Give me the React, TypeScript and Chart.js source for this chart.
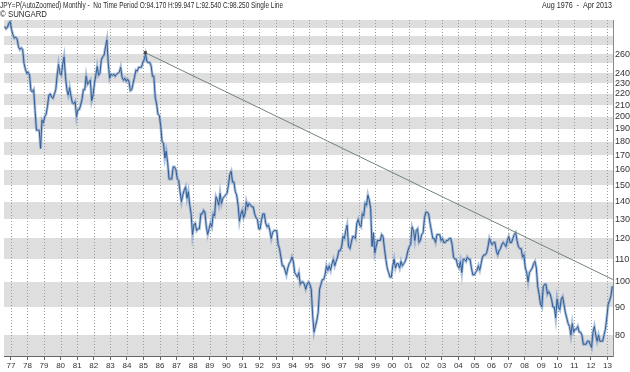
import React, { useEffect, useRef } from 'react';
import { Chart, registerables } from 'chart.js';

Chart.register(...registerables);

// Monthly closes, starting Aug 1976, ending Apr 2013
const startYear = 1976;
const startMonth = 8;
const closes1976to1989 = [
  292, 289, 291, 296, 298,
  288, 282, 278, 279, 277, 268, 265, 267, 265, 250, 244, 240,
  241, 238, 223, 222, 224, 205, 189, 189, 189, 175, 197, 195,
  200, 202, 209, 219, 220, 217, 216, 220, 224, 238, 249, 240,
  238, 249, 257, 237, 224, 219, 226, 218, 212, 211, 213, 200,
  206, 206, 210, 215, 224, 224, 237, 229, 231, 233, 214, 219,
  230, 238, 247, 238, 240, 254, 257, 259, 268, 276, 250, 235,
  239, 238, 239, 237, 239, 240, 241, 246, 236, 233, 235, 232,
  234, 232, 223, 224, 230, 236, 243, 242, 246, 246, 246, 251,
  254, 260, 252, 251, 251, 248, 237, 237, 217, 211, 202, 201,
  192, 180, 179, 168, 173, 165, 154, 154, 154, 162, 162, 160,
  154, 153, 146, 140, 144, 147, 149, 142, 146, 138, 133, 122,
  127, 128, 124, 125, 125, 133, 133, 135, 134, 126, 122, 125,
  128, 126, 133, 132, 143, 141, 138, 145, 139, 142, 143, 144,
];
const closes1990to2001 = [
  145, 150, 157, 159, 152, 152, 146, 144, 138, 129, 133, 135,
  131, 133, 140, 137, 139, 138, 137, 137, 133, 131, 130, 125,
  125, 130, 133, 133, 128, 126, 127, 124, 120, 123, 124, 124,
  124, 117, 115, 111, 107, 107, 105, 103, 106, 108, 109, 111,
  109, 104, 103, 102, 104, 99, 100, 100, 99, 97, 99, 100,
  99, 97, 87, 81, 83, 85, 88, 97, 99, 101, 101, 103,
  107, 105, 107, 105, 108, 110, 107, 109, 111, 114, 114, 116,
  121, 120, 124, 127, 116, 115, 118, 121, 121, 120, 128, 130,
  127, 126, 133, 132, 139, 138, 144, 141, 136, 116, 123, 113,
  116, 119, 119, 119, 122, 121, 115, 110, 106, 104, 102, 102,
  107, 110, 106, 108, 108, 106, 109, 107, 108, 109, 111, 114,
  116, 117, 126, 124, 119, 124, 125, 118, 119, 122, 123, 131,
];
const closes2002to2013 = [
  134, 134, 133, 128, 124, 120, 120, 118, 122, 122, 122, 119,
  120, 118, 118, 119, 119, 120, 120, 117, 111, 110, 110, 107,
  106, 109, 104, 110, 110, 109, 111, 110, 110, 106, 103, 103,
  104, 105, 107, 105, 108, 111, 112, 112, 113, 116, 120, 118,
  117, 118, 118, 114, 112, 114, 115, 117, 118, 117, 116, 119,
  121, 118, 118, 120, 122, 123, 119, 116, 115, 115, 111, 112,
  106, 104, 100, 104, 105, 106, 108, 109, 106, 98, 95, 91,
  90, 98, 99, 99, 95, 96, 95, 93, 90, 90, 86, 93,
  90, 89, 93, 94, 91, 88, 86, 84, 83, 80, 84, 81,
  82, 82, 83, 81, 81, 80, 77, 77, 77, 78, 78, 77,
  76, 81, 83, 80, 78, 80, 78, 78, 78, 80, 82, 86,
  91, 92.5, 94.2, 98.25,
];
const closes = [...closes1976to1989, ...closes1990to2001, ...closes2002to2013];

const xTickYears = [
  1977, 1978, 1979, 1980, 1981, 1982, 1983, 1984, 1985, 1986, 1987, 1988, 1989,
  1990, 1991, 1992, 1993, 1994, 1995, 1996, 1997, 1998, 1999, 2000, 2001, 2002,
  2003, 2004, 2005, 2006, 2007, 2008, 2009, 2010, 2011, 2012, 2013,
];
const yTickValues = [80, 90, 100, 110, 120, 130, 140, 150, 160, 170, 180, 190, 200, 210, 220, 230, 240, 260];
const bandLows = [70, 90, 110, 130, 150, 170, 190, 210, 230, 250, 270, 290];
const bandHighs = [80, 100, 120, 140, 160, 180, 200, 220, 240, 260, 280, 300];

const trendX = [1985.11, 2013.333];
const trendY = [261.6, 101.0];

const xMin = 1976 + 7 / 12;
const xMax = 2013 + 4 / 12;
const yMin = 73.3;
const yMax = 300;

const headerLeft = 'JPY=P(AutoZoomed) Monthly -  No Time Period O:94.170 H:99.947 L:92.540 C:98.250 Single Line';
const headerRight = 'Aug 1976  -  Apr 2013';
const headerCopy = '\u00A9 SUNGARD';

const FONT = '"Liberation Sans", Arial, sans-serif';

const backgroundPlugin = {
  id: 'bandsAndGrid',
  beforeDraw(chart: any) {
    const { ctx, chartArea, scales } = chart;
    const y = scales.y;
    const x = scales.x;
    ctx.save();
    ctx.beginPath();
    ctx.rect(chartArea.left, chartArea.top, chartArea.right - chartArea.left, chartArea.bottom - chartArea.top);
    ctx.clip();
    ctx.fillStyle = '#dedede';
    for (let i = 0; i < bandLows.length; i++) {
      const y1 = y.getPixelForValue(bandHighs[i]);
      const y2 = y.getPixelForValue(bandLows[i]);
      ctx.fillRect(chartArea.left, Math.round(y1), chartArea.right - chartArea.left, Math.round(y2) - Math.round(y1));
    }
    ctx.strokeStyle = '#9a9a9a';
    ctx.lineWidth = 1;
    ctx.setLineDash([1, 2]);
    for (const yr of xTickYears) {
      const px = Math.round(x.getPixelForValue(yr)) + 0.5;
      ctx.beginPath();
      ctx.moveTo(px, chartArea.top);
      ctx.lineTo(px, chartArea.bottom);
      ctx.stroke();
    }
    ctx.restore();
  },
  afterDraw(chart: any) {
    const { ctx } = chart;
    ctx.save();
    ctx.fillStyle = '#2a2a2a';
    ctx.font = `9px ${FONT}`;
    ctx.textBaseline = 'alphabetic';
    ctx.textAlign = 'left';
    ctx.fillText(headerLeft, 0, 8, 283);
    ctx.fillText(headerCopy, 0, 17, 47);
    ctx.textAlign = 'right';
    ctx.fillText(headerRight, 612, 8, 70);
    ctx.restore();
  },
};

export default function App() {
  const ref = useRef<HTMLCanvasElement | null>(null);

  useEffect(() => {
    if (!ref.current) return;
    const closePts = closes.map((c, i) => ({
      x: startYear + (startMonth - 1 + i) / 12 + 1 / 24,
      y: c,
    }));
    const trendPts = trendX.map((tx, i) => ({ x: tx, y: trendY[i] }));

    const chart = new Chart(ref.current, {
      type: 'line',
      data: {
        datasets: [
          {
            data: trendPts,
            borderColor: '#72837b',
            borderWidth: 1,
            pointRadius: [2.2, 0],
            pointStyle: 'rect',
            pointBackgroundColor: '#4a4a4a',
            pointBorderColor: '#4a4a4a',
            pointBorderWidth: 0,
            order: 1,
          },
          {
            data: closePts,
            borderColor: '#2f5d97',
            borderWidth: 1,
            pointRadius: 0,
            tension: 0,
            order: 2,
          },
          {
            data: closePts,
            borderColor: 'rgba(120,152,196,0.6)',
            borderWidth: 2.8,
            pointRadius: 0,
            tension: 0,
            order: 3,
          },
        ],
      },
      options: {
        animation: false,
        responsive: false,
        devicePixelRatio: 1,
        layout: { padding: { top: 20, left: 0, right: 0, bottom: 0 } },
        plugins: {
          legend: { display: false },
          tooltip: { enabled: false },
        },
        scales: {
          x: {
            type: 'linear',
            min: xMin,
            max: xMax,
            afterBuildTicks: (s: any) => {
              s.ticks = xTickYears.map((v) => ({ value: v }));
            },
            afterFit: (s: any) => {
              s.height = 16;
            },
            grid: { display: true, drawOnChartArea: false, drawTicks: true, tickLength: 4, color: '#666' },
            border: { display: true, color: '#666', width: 1 },
            ticks: {
              autoSkip: false,
              maxRotation: 0,
              padding: 1,
              color: '#333',
              font: { size: 8, family: FONT },
              callback: (v: any) => String(Number(v) % 100).padStart(2, '0'),
            },
          },
          y: {
            type: 'logarithmic',
            position: 'right',
            min: yMin,
            max: yMax,
            afterBuildTicks: (s: any) => {
              s.ticks = yTickValues.map((v) => ({ value: v }));
            },
            afterFit: (s: any) => {
              s.width = 17;
            },
            grid: { display: false, drawTicks: false, tickLength: 0 },
            border: { display: true, color: '#8a8a8a', width: 1 },
            ticks: {
              autoSkip: false,
              padding: 2,
              color: '#333',
              font: { size: 9, family: FONT },
              callback: (v: any) => String(v),
            },
          },
        },
      },
      plugins: [backgroundPlugin],
    } as any);

    return () => chart.destroy();
  }, []);

  return (
    <div style={{ position: 'fixed', left: 0, top: 0, width: 630, height: 372, background: '#fff' }}>
      <canvas ref={ref} width={630} height={372} style={{ display: 'block', width: 630, height: 372 }} />
    </div>
  );
}
